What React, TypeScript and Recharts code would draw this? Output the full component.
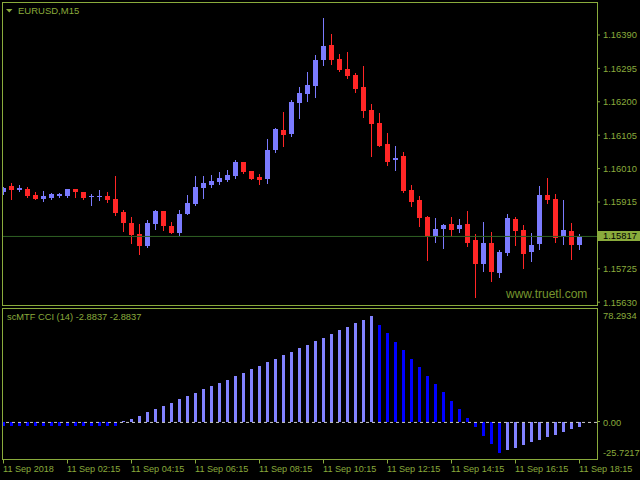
import React from "react";
import { Bar, ComposedChart, ReferenceLine, XAxis, YAxis } from "recharts";

const FG = "#8aab3c";
const BULL = "#7b7bff";
const BEAR = "#ff2626";
const CCI_UP = "#8282ff";
const CCI_DOWN = "#0000ff";
const BID_LINE = "#2f6024";
const FONT = "'Liberation Sans', Arial, sans-serif";

// EURUSD M15 bars, 11 Sep 2018
const opens = [
  1.15943, 1.15961, 1.1595, 1.15952, 1.15935, 1.15924, 1.15927, 1.15933, 1.15933, 1.15952,
  1.15943, 1.15928, 1.1593, 1.15932, 1.15924, 1.15887, 1.15855, 1.15824, 1.1579, 1.15853,
  1.15889, 1.15847, 1.15827, 1.15882, 1.15909, 1.15956, 1.15963, 1.15972, 1.15978, 1.15989,
  1.16029, 1.16003, 1.15986, 1.1598, 1.16063, 1.1612, 1.16108, 1.16197, 1.16222, 1.16245,
  1.16319, 1.16362, 1.16322, 1.16293, 1.16276, 1.16242, 1.16177, 1.1614, 1.1608, 1.16034,
  1.16046, 1.15949, 1.15921, 1.15872, 1.15815, 1.15838, 1.15852, 1.15838, 1.15852, 1.15807,
  1.15739, 1.15799, 1.15713, 1.1577, 1.15867, 1.15835, 1.15773, 1.15796, 1.15935, 1.15924,
  1.15818, 1.15832, 1.15793,
];
const highs = [
  1.15958, 1.15969, 1.15963, 1.15958, 1.15943, 1.15946, 1.15941, 1.15941, 1.15952, 1.15952,
  1.15943, 1.15938, 1.15949, 1.15943, 1.1599, 1.15892, 1.15872, 1.15852, 1.15864, 1.15892,
  1.15889, 1.15857, 1.15892, 1.15935, 1.15989, 1.15989, 1.15992, 1.16, 1.16006, 1.16034,
  1.16029, 1.16003, 1.15995, 1.16094, 1.16125, 1.16171, 1.16205, 1.16242, 1.16285, 1.16333,
  1.16438, 1.16393, 1.16336, 1.16342, 1.16282, 1.16302, 1.16194, 1.16168, 1.16111, 1.16074,
  1.16057, 1.15963, 1.15932, 1.15875, 1.1587, 1.15852, 1.15872, 1.15867, 1.15889, 1.15824,
  1.15858, 1.1583, 1.15778, 1.15881, 1.15872, 1.1585, 1.15827, 1.15961, 1.15983, 1.15938,
  1.15921, 1.15855, 1.15824,
];
const lows = [
  1.15938, 1.15924, 1.15946, 1.1593, 1.15924, 1.15919, 1.15924, 1.1593, 1.1593, 1.1593,
  1.15924, 1.15907, 1.15922, 1.15915, 1.15879, 1.15833, 1.15799, 1.15768, 1.15787, 1.15839,
  1.15836, 1.15828, 1.15822, 1.15882, 1.15906, 1.15927, 1.15958, 1.15966, 1.15975, 1.15983,
  1.15997, 1.1598, 1.15966, 1.15969, 1.16057, 1.16074, 1.16103, 1.16154, 1.16202, 1.16214,
  1.16305, 1.16307, 1.16288, 1.16268, 1.16228, 1.16157, 1.16046, 1.16074, 1.1602, 1.16006,
  1.15943, 1.15904, 1.15847, 1.1575, 1.15801, 1.15784, 1.15818, 1.1583, 1.1579, 1.15645,
  1.15719, 1.1569, 1.15702, 1.15764, 1.15793, 1.15727, 1.15747, 1.15781, 1.15912, 1.15801,
  1.15796, 1.15753, 1.15781,
];
const closes = [
  1.15955, 1.1595, 1.15955, 1.15933, 1.15924, 1.15932, 1.15939, 1.15939, 1.15952, 1.15944,
  1.15927, 1.15933, 1.15932, 1.15922, 1.15885, 1.15856, 1.15822, 1.1579, 1.15855, 1.15889,
  1.15848, 1.15828, 1.15881, 1.15912, 1.15958, 1.15969, 1.15975, 1.15983, 1.15992, 1.16029,
  1.16, 1.1598, 1.15978, 1.16063, 1.16123, 1.16106, 1.16199, 1.16225, 1.16248, 1.16319,
  1.16359, 1.16319, 1.1629, 1.16273, 1.16236, 1.16174, 1.16137, 1.16074, 1.16029, 1.1604,
  1.15946, 1.15915, 1.1587, 1.15815, 1.15838, 1.1585, 1.15835, 1.1585, 1.15799, 1.15739,
  1.15799, 1.15716, 1.15773, 1.1587, 1.15832, 1.15767, 1.15793, 1.15935, 1.15921, 1.15813,
  1.15835, 1.15793, 1.15817,
];

// scMTF CCI (14) histogram
const cci = [
  -2.2, -2.2, -2.2, -2.2, -2.2, -2.2, -2.2, -2.2, -2.2, -2.2, -2.2, -2.2, -2.2, -2.2, -2.2,
  0.7, 2.3, 4.4, 7.2, 9.3, 11.4, 13.5, 16.3, 18.4, 20.5, 23.3, 25.3, 27.4, 29.5, 32.3, 34.4,
  37.2, 39.3, 42.1, 44.2, 47.0, 49.1, 51.9, 54.0, 56.7, 58.8, 61.6, 64.4, 66.5, 69.3, 71.4, 74.2,
  67.9, 62.3, 56.0, 50.5, 44.2, 38.6, 32.3, 26.7, 21.2, 14.9, 9.3, 3.0,
  -3.3, -9.3, -14.9, -21.4,
  -19.1, -17.7, -15.6, -13.5, -12.1, -10.0, -8.6, -6.5, -4.4, -2.8837,
];

const timeTickBars = [0, 8, 16, 24, 32, 40, 48, 56, 64, 72];
const timeLabels = [
  "11 Sep 2018", "11 Sep 02:15", "11 Sep 04:15", "11 Sep 06:15", "11 Sep 08:15",
  "11 Sep 10:15", "11 Sep 12:15", "11 Sep 14:15", "11 Sep 16:15", "11 Sep 18:15",
];
const priceTicks = [1.1563, 1.15725, 1.15915, 1.1601, 1.16105, 1.162, 1.16295, 1.1639];
const bid = 1.15817;
const cciTicks = [-25.7217, 0, 78.2934];

const candles = opens.map((open, i) => ({
  i,
  open,
  high: highs[i],
  low: lows[i],
  close: closes[i],
  range: [lows[i], highs[i]],
}));
const cciData = cci.map((v, i) => ({ i, v, up: i > 0 && v > cci[i - 1] }));

const xDomain = [-0.0625, 74.1875];

function Candle(props: any) {
  const { x, y, width, height, payload } = props;
  if (!payload) return null;
  const { open, close, high, low } = payload;
  const top = Math.min(y, y + height);
  const h = Math.abs(height);
  const toY = (v: number) => top + ((high - v) / (high - low)) * h;
  const cx = Math.floor(x + width / 2) + 0.5;
  const color = close >= open ? BULL : BEAR;
  const bTop = Math.round(toY(Math.max(open, close)));
  const bBot = Math.round(toY(Math.min(open, close)));
  return (
    <g>
      <line x1={cx} x2={cx} y1={Math.round(toY(high))} y2={Math.round(toY(low)) + 1} stroke={color} strokeWidth={1} />
      <rect x={cx - 2.5} y={bTop} width={5} height={Math.max(1, bBot - bTop)} fill={color} />
    </g>
  );
}

function HistBar(props: any) {
  const { x, y, width, height, payload } = props;
  if (!payload) return null;
  const cx = Math.floor(x + width / 2);
  const top = Math.round(Math.min(y, y + height));
  const bot = Math.round(Math.max(y, y + height));
  return <rect x={cx - 1} y={top} width={3} height={Math.max(1, bot - top)} fill={payload.up ? CCI_UP : CCI_DOWN} />;
}

function BidLabel(props: any) {
  const vb = props.viewBox;
  if (!vb) return null;
  const x = vb.x + vb.width;
  const y = Math.round(vb.y);
  return (
    <g>
      <rect x={x + 1} y={y - 5} width={43} height={10} fill={FG} />
      <text x={x + 6} y={y} dy="0.355em" fontSize={9.4} fontFamily={FONT} fill="#000">
        {bid.toFixed(5)}
      </text>
    </g>
  );
}

function TimeTick(props: any) {
  const { x, y, payload } = props;
  const idx = timeTickBars.indexOf(payload.value);
  const tx = Math.floor(x) + 0.5;
  return (
    <g>
      <line x1={tx} x2={tx} y1={Math.round(y) + 0.5} y2={Math.round(y) + 4.5} stroke={FG} />
      <text x={x - 0.5} y={472} fontSize={9.1} fontFamily={FONT} fill={FG}>
        {idx >= 0 ? timeLabels[idx] : ""}
      </text>
    </g>
  );
}

function CciTick(props: any) {
  const { x, y, payload } = props;
  const v = payload.value;
  let dy = 0;
  if (v === cciTicks[2]) dy = 5.2;
  if (v === cciTicks[0]) dy = -6.5;
  const label = v === 0 ? "0.00" : v.toFixed(4);
  return (
    <g>
      {v === 0 && <line x1={597} x2={600} y1={Math.round(y) - 0.5} y2={Math.round(y) - 0.5} stroke={FG} />}
      <text x={x} y={y + dy} dy="0.355em" fontSize={9.3} fontFamily={FONT} fill={FG}>
        {label}
      </text>
    </g>
  );
}

export default function App() {
  return (
    <div style={{ position: "fixed", left: 0, top: 0, width: 640, height: 480, background: "#000", overflow: "hidden" }}>
      <div style={{ position: "absolute", left: 0, top: 0 }}>
        <ComposedChart width={640} height={310} data={candles} margin={{ top: 3, right: 0, bottom: 5, left: 3 }}>
          <XAxis dataKey="i" type="number" domain={xDomain} allowDataOverflow hide />
          <YAxis
            orientation="right"
            width={43}
            type="number"
            domain={[1.15622, 1.16481]}
            allowDataOverflow
            ticks={priceTicks}
            interval={0}
            axisLine={false}
            tickLine={{ stroke: FG }}
            tickSize={3}
            tickMargin={3}
            tick={{ fill: FG, fontSize: 9.4, fontFamily: FONT, textAnchor: "start" }}
            tickFormatter={(v: number) => v.toFixed(5)}
          />
          <ReferenceLine y={bid} stroke={BID_LINE} strokeWidth={1} label={<BidLabel />} />
          <Bar dataKey="range" barSize={5} isAnimationActive={false} shape={(p: any) => <Candle {...p} />} />
        </ComposedChart>
      </div>
      <div style={{ position: "absolute", left: 0, top: 0 }}>
        <ComposedChart width={640} height={480} data={cciData} margin={{ top: 310.5, right: 0, bottom: 0.8, left: 3 }}>
          <XAxis
            dataKey="i"
            type="number"
            domain={xDomain}
            allowDataOverflow
            ticks={timeTickBars}
            interval={0}
            height={20}
            axisLine={false}
            tickLine={false}
            tickSize={0}
            tickMargin={0}
            tick={<TimeTick />}
          />
          <YAxis
            orientation="right"
            width={43}
            type="number"
            domain={[-25.7217, 78.2934]}
            allowDataOverflow
            ticks={cciTicks}
            interval={0}
            axisLine={false}
            tickLine={false}
            tickSize={3}
            tickMargin={3}
            tick={<CciTick />}
          />
          <ReferenceLine y={0} stroke="#c8c8c8" strokeDasharray="3 3" />
          <Bar dataKey="v" barSize={3} isAnimationActive={false} shape={(p: any) => <HistBar {...p} />} />
        </ComposedChart>
      </div>
      <svg width={640} height={480} style={{ position: "absolute", left: 0, top: 0, pointerEvents: "none" }}>
        <rect x={2.5} y={2.5} width={595} height={303} fill="none" stroke={FG} />
        <rect x={2.5} y={308.5} width={595} height={151} fill="none" stroke={FG} />
        <path d="M6,9 L12.5,9 L9.25,12.5 Z" fill={FG} />
        <text x={18} y={14} fontSize={9.5} fontFamily={FONT} fill={FG}>
          EURUSD,M15
        </text>
        <text x={7} y={320} fontSize={9.3} fontFamily={FONT} fill={FG}>
          scMTF CCI (14) -2.8837 -2.8837
        </text>
        <text x={506} y={298} fontSize={12} fontFamily={FONT} fill="#76962e">
          www.truetl.com
        </text>
      </svg>
    </div>
  );
}
